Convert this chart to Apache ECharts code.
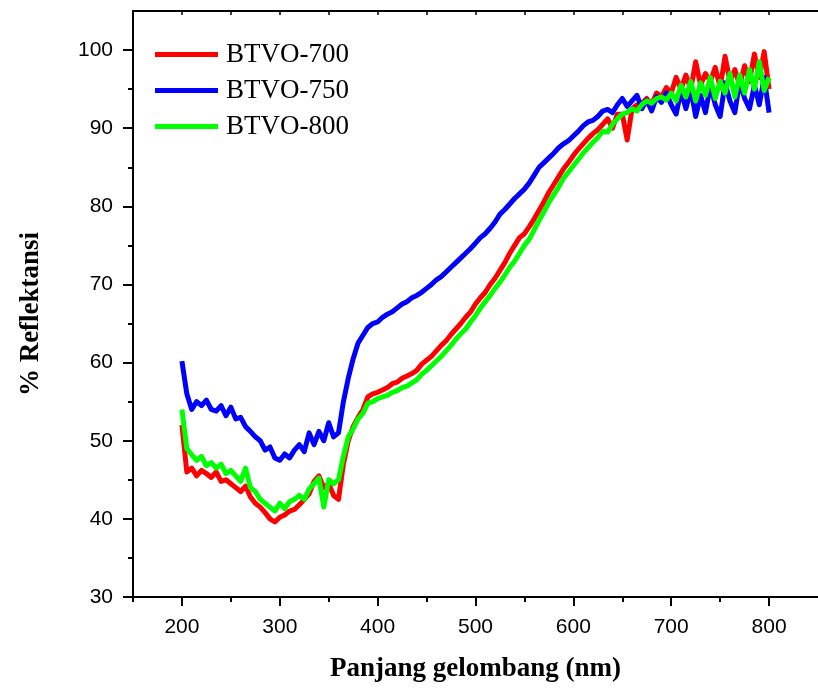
<!DOCTYPE html>
<html>
<head>
<meta charset="utf-8">
<script src="https://cdn.jsdelivr.net/npm/echarts@6/dist/echarts.min.js"></script>
<style>
html,body{margin:0;padding:0;background:#fff;}
#chart{width:818px;height:688px;}
</style>
</head>
<body>
<div id="chart"></div>
<script>
// wavelengths (nm), 5 nm steps 200..800
const wavelengths = [200,205,210,215,220,225,230,235,240,245,250,255,260,265,270,275,280,285,290,295,
300,305,310,315,320,325,330,335,340,345,350,355,360,365,370,375,380,385,390,395,
400,405,410,415,420,425,430,435,440,445,450,455,460,465,470,475,480,485,490,495,
500,505,510,515,520,525,530,535,540,545,550,555,560,565,570,575,580,585,590,595,
600,605,610,615,620,625,630,635,640,645,650,655,660,665,670,675,680,685,690,695,
700,705,710,715,720,725,730,735,740,745,750,755,760,765,770,775,780,785,790,795,800];

const btvo700 = [52.0,46.0,46.5,45.5,46.2,45.8,45.3,46.0,44.8,45.0,44.5,44.0,43.5,44.2,42.8,42.0,41.5,40.8,40.0,39.6,
40.2,40.5,41.0,41.2,41.8,42.5,43.2,44.8,45.5,44.0,44.5,43.0,42.5,47.0,50.0,51.8,53.0,54.0,55.6,56.0,
56.2,56.5,56.8,57.3,57.5,58.0,58.3,58.6,59.0,59.8,60.3,60.8,61.5,62.2,62.8,63.6,64.3,65.0,65.8,66.5,
67.5,68.3,69.0,70.0,70.8,71.8,72.8,74.0,75.0,76.0,76.5,77.4,78.4,79.5,80.6,81.8,82.8,83.8,84.8,85.6,
86.5,87.3,88.0,88.7,89.3,89.8,90.5,91.2,90.0,91.8,91.8,88.5,92.5,93.0,93.2,93.8,93.0,94.5,94.0,95.2,
94.5,96.5,95.0,96.8,95.0,98.5,95.5,97.0,96.0,97.8,95.2,99.2,96.0,97.5,95.5,98.0,96.0,99.5,96.5,99.8,95.0];

const btvo750 = [60.2,56.0,54.0,55.0,54.5,55.2,54.0,53.8,54.5,53.2,54.3,52.8,53.0,51.8,51.2,50.5,50.0,48.8,49.2,47.8,
47.5,48.3,47.8,48.8,49.5,48.6,51.0,49.5,51.2,50.0,52.3,50.5,51.0,55.0,58.0,60.5,62.5,63.5,64.5,65.0,
65.2,65.8,66.2,66.5,67.0,67.5,67.8,68.3,68.6,69.0,69.5,70.0,70.6,71.0,71.6,72.2,72.8,73.4,74.0,74.6,
75.3,76.0,76.5,77.2,78.0,79.0,79.6,80.3,81.0,81.6,82.2,83.0,84.0,85.0,85.6,86.2,86.8,87.5,88.0,88.4,
89.0,89.6,90.3,90.8,91.0,91.5,92.2,92.4,92.0,93.0,93.8,92.8,93.5,94.2,92.5,93.6,92.2,94.0,93.3,94.5,
93.0,91.8,94.8,92.5,95.0,91.5,94.2,92.0,95.5,93.0,91.5,95.8,93.5,92.0,96.0,93.8,92.5,95.5,93.0,96.5,92.0];

const btvo800 = [54.0,49.0,48.2,47.5,48.0,46.8,47.2,46.5,47.0,45.8,46.2,45.5,44.8,46.5,44.0,43.5,42.5,42.0,41.5,41.0,
42.0,41.3,42.2,42.5,43.0,42.5,43.8,44.5,45.2,41.5,45.0,44.5,45.0,48.0,50.5,51.5,52.8,53.5,54.8,55.0,
55.4,55.6,55.8,56.2,56.4,56.8,57.0,57.4,57.8,58.5,59.0,59.6,60.2,60.8,61.5,62.2,63.0,63.7,64.3,65.2,
66.0,67.0,67.8,68.6,69.5,70.3,71.2,72.2,73.0,74.0,75.0,75.8,77.0,78.2,79.3,80.5,81.5,82.5,83.6,84.4,
85.2,86.0,86.8,87.5,88.2,88.8,89.6,89.5,90.5,91.2,91.8,92.0,92.5,92.2,93.0,93.5,93.2,93.8,94.0,93.6,
94.5,93.5,95.5,94.0,96.0,93.5,95.8,94.2,96.5,93.8,96.0,94.5,97.0,94.0,96.8,94.5,97.5,95.0,98.5,94.8,96.5];

const seriesNames = ['BTVO-700','BTVO-750','BTVO-800'];
const xMajorTicks = [200,300,400,500,600,700,800];
const xMinorTicks = [150,250,350,450,550,650,750];
const xTopTicks = [200,250,300,350,400,450,500,550,600,650,700,750,800];
const yMajorTicks = [30,40,50,60,70,80,90,100];
const yMinorTicks = [35,45,55,65,75,85,95];

const pairs = ys => wavelengths.map((x,i)=>[x, ys[i]]);
const colors = ['#ff0000','#0000ff','#00ff00'];
const dataSets = [btvo700, btvo750, btvo800];

const chart = echarts.init(document.getElementById('chart'), null, {renderer:'canvas'});
const axisCommon = {type:'value', min:150, max:850, splitLine:{show:false}};
const yCommon = {type:'value', min:30, max:105, splitLine:{show:false}};
chart.setOption({
  animation:false,
  backgroundColor:'#fff',
  grid:{left:133, right:0, top:11, bottom:91, containLabel:false},
  legend:{
    orient:'vertical', left:150, top:36, itemGap:9,
    itemWidth:63, itemHeight:5, icon:'rect',
    textStyle:{fontFamily:'"Liberation Serif","Times New Roman",serif', fontSize:27, color:'#000', padding:[0,0,0,3]},
    data:seriesNames
  },
  xAxis:[
    Object.assign({}, axisCommon, {
      position:'bottom', interval:100,
      axisLine:{show:true, lineStyle:{color:'#000', width:2}},
      axisTick:{show:true, inside:false, length:9, customValues:xMajorTicks, lineStyle:{color:'#000', width:2}},
      axisLabel:{show:true, customValues:xMajorTicks, margin:20, color:'#000', fontSize:21, fontFamily:'"Liberation Sans",Arial,sans-serif'},
      name:'Panjang gelombang (nm)', nameLocation:'middle', nameGap:59,
      nameTextStyle:{fontFamily:'"Liberation Serif","Times New Roman",serif', fontWeight:'bold', fontSize:27, color:'#000'}
    }),
    Object.assign({}, axisCommon, {
      position:'bottom', offset:0,
      axisLine:{show:false},
      axisTick:{show:true, inside:false, length:5, customValues:xMinorTicks, lineStyle:{color:'#000', width:2}},
      axisLabel:{show:false}
    }),
    Object.assign({}, axisCommon, {
      position:'top', offset:0,
      axisLine:{show:true, lineStyle:{color:'#000', width:2}},
      axisTick:{show:true, inside:true, length:4, customValues:xTopTicks, lineStyle:{color:'#000', width:1.5}},
      axisLabel:{show:false}
    })
  ],
  yAxis:[
    Object.assign({}, yCommon, {
      position:'left', interval:10,
      axisLine:{show:true, lineStyle:{color:'#000', width:2}},
      axisTick:{show:true, inside:false, length:10, customValues:yMajorTicks, lineStyle:{color:'#000', width:2}},
      axisLabel:{show:true, customValues:yMajorTicks, margin:20, color:'#000', fontSize:21, fontFamily:'"Liberation Sans",Arial,sans-serif'},
      name:'% Reflektansi', nameLocation:'middle', nameGap:88, nameRotate:90,
      nameTextStyle:{fontFamily:'"Liberation Serif","Times New Roman",serif', fontWeight:'bold', fontSize:27, color:'#000', padding:[0,20,0,0]}
    }),
    Object.assign({}, yCommon, {
      position:'left', offset:0,
      axisLine:{show:false},
      axisTick:{show:true, inside:false, length:5, customValues:yMinorTicks, lineStyle:{color:'#000', width:2}},
      axisLabel:{show:false}
    })
  ],
  series: seriesNames.map((n,i)=>({
    name:n, type:'line', xAxisIndex:0, yAxisIndex:0,
    data:pairs(dataSets[i]), showSymbol:false, symbol:'none',
    lineStyle:{color:colors[i], width:5, join:'round'},
    itemStyle:{color:colors[i]}, z:2+i
  }))
});
</script>
</body>
</html>
